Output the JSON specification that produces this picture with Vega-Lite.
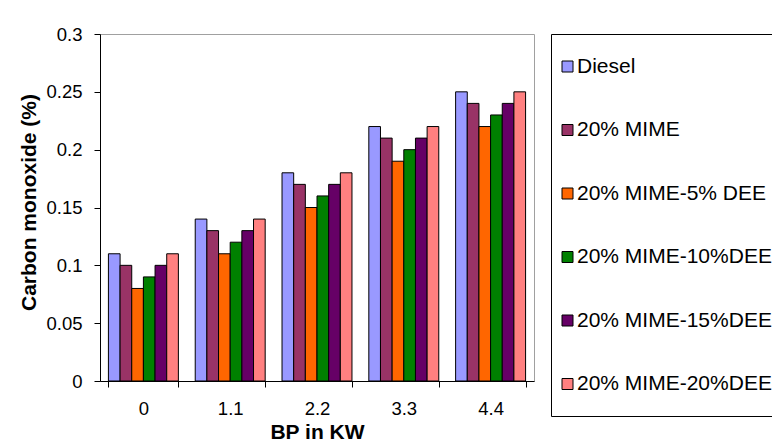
{
  "$schema": "https://vega.github.io/schema/vega-lite/v6.json",
  "autosize": "none",
  "width": 434,
  "height": 347,
  "padding": {"left": 100, "top": 34, "right": 238, "bottom": 67},
  "background": "white",
  "config": {
    "font": "Liberation Sans",
    "view": {"stroke": "#a0a0a0", "strokeWidth": 1},
    "axis": {"grid": false, "domainColor": "black", "tickColor": "black", "labelColor": "black", "titleColor": "black", "labelFont": "Liberation Sans", "titleFont": "Liberation Sans"}
  },
  "data": {
    "values": [
      {"bp": "0", "fuel": "Diesel", "co": 0.11},
      {"bp": "0", "fuel": "20% MIME", "co": 0.10},
      {"bp": "0", "fuel": "20% MIME-5% DEE", "co": 0.08},
      {"bp": "0", "fuel": "20% MIME-10%DEE", "co": 0.09},
      {"bp": "0", "fuel": "20% MIME-15%DEE", "co": 0.10},
      {"bp": "0", "fuel": "20% MIME-20%DEE", "co": 0.11},
      {"bp": "1.1", "fuel": "Diesel", "co": 0.14},
      {"bp": "1.1", "fuel": "20% MIME", "co": 0.13},
      {"bp": "1.1", "fuel": "20% MIME-5% DEE", "co": 0.11},
      {"bp": "1.1", "fuel": "20% MIME-10%DEE", "co": 0.12},
      {"bp": "1.1", "fuel": "20% MIME-15%DEE", "co": 0.13},
      {"bp": "1.1", "fuel": "20% MIME-20%DEE", "co": 0.14},
      {"bp": "2.2", "fuel": "Diesel", "co": 0.18},
      {"bp": "2.2", "fuel": "20% MIME", "co": 0.17},
      {"bp": "2.2", "fuel": "20% MIME-5% DEE", "co": 0.15},
      {"bp": "2.2", "fuel": "20% MIME-10%DEE", "co": 0.16},
      {"bp": "2.2", "fuel": "20% MIME-15%DEE", "co": 0.17},
      {"bp": "2.2", "fuel": "20% MIME-20%DEE", "co": 0.18},
      {"bp": "3.3", "fuel": "Diesel", "co": 0.22},
      {"bp": "3.3", "fuel": "20% MIME", "co": 0.21},
      {"bp": "3.3", "fuel": "20% MIME-5% DEE", "co": 0.19},
      {"bp": "3.3", "fuel": "20% MIME-10%DEE", "co": 0.20},
      {"bp": "3.3", "fuel": "20% MIME-15%DEE", "co": 0.21},
      {"bp": "3.3", "fuel": "20% MIME-20%DEE", "co": 0.22},
      {"bp": "4.4", "fuel": "Diesel", "co": 0.25},
      {"bp": "4.4", "fuel": "20% MIME", "co": 0.24},
      {"bp": "4.4", "fuel": "20% MIME-5% DEE", "co": 0.22},
      {"bp": "4.4", "fuel": "20% MIME-10%DEE", "co": 0.23},
      {"bp": "4.4", "fuel": "20% MIME-15%DEE", "co": 0.24},
      {"bp": "4.4", "fuel": "20% MIME-20%DEE", "co": 0.25}
    ]
  },
  "mark": {"type": "bar", "stroke": "black", "strokeWidth": 1},
  "encoding": {
    "x": {
      "field": "bp", "type": "nominal", "sort": ["0", "1.1", "2.2", "3.3", "4.4"],
      "scale": {"paddingInner": 0.194, "paddingOuter": 0.097},
      "axis": {
        "title": "BP in KW", "labelAngle": 0, "labelFontSize": 18.5, "titleFontSize": 21, "titleFontWeight": "bold",
        "tickBand": "extent", "tickSize": 6, "labelPadding": 12,
        "titleY": 57, "titleBaseline": "alphabetic"
      }
    },
    "xOffset": {
      "field": "fuel", "type": "nominal",
      "sort": ["Diesel", "20% MIME", "20% MIME-5% DEE", "20% MIME-10%DEE", "20% MIME-15%DEE", "20% MIME-20%DEE"],
      "scale": {"paddingInner": 0, "paddingOuter": 0}
    },
    "y": {
      "field": "co", "type": "quantitative",
      "scale": {"domain": [0, 0.3], "nice": false},
      "axis": {
        "title": "Carbon monoxide (%)", "values": [0, 0.05, 0.1, 0.15, 0.2, 0.25, 0.3], "format": "~g",
        "labelFontSize": 18.5, "titleFontSize": 21, "titleFontWeight": "bold",
        "tickSize": 6, "labelPadding": 12,
        "titleX": -71, "titleY": 168, "titleAngle": -90, "titleAlign": "center", "titleBaseline": "middle"
      }
    },
    "color": {
      "field": "fuel", "type": "nominal",
      "sort": ["Diesel", "20% MIME", "20% MIME-5% DEE", "20% MIME-10%DEE", "20% MIME-15%DEE", "20% MIME-20%DEE"],
      "scale": {
        "domain": ["Diesel", "20% MIME", "20% MIME-5% DEE", "20% MIME-10%DEE", "20% MIME-15%DEE", "20% MIME-20%DEE"],
        "range": ["#9999FF", "#993366", "#FF6600", "#008000", "#660066", "#FF8080"]
      },
      "legend": {
        "title": null, "orient": "none", "legendX": 451, "legendY": 0,
        "strokeColor": "black", "padding": 22, "rowPadding": 41.5,
        "symbolType": "square", "symbolSize": 121, "symbolStrokeColor": "black", "symbolStrokeWidth": 1,
        "symbolOffset": -16, "labelOffset": -1,
        "labelFontSize": 21, "labelFont": "Liberation Sans", "labelColor": "black", "labelLimit": 400
      }
    }
  }
}
